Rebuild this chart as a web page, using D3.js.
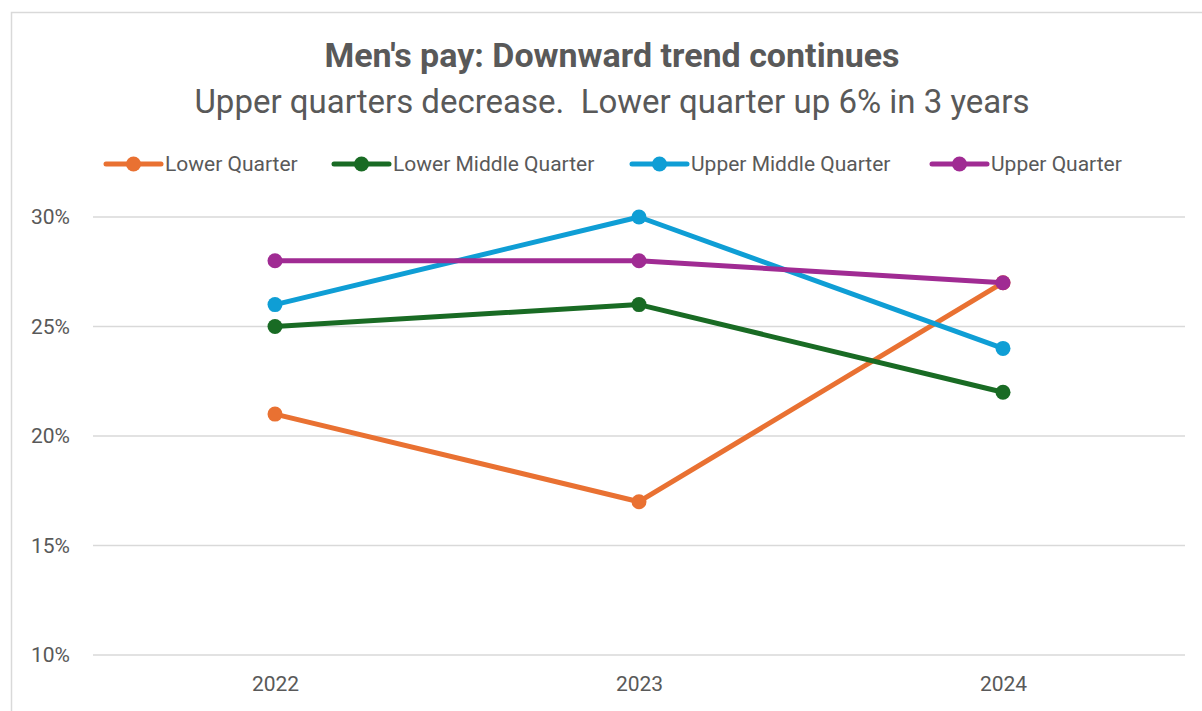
<!DOCTYPE html>
<html>
<head>
<meta charset="utf-8">
<script src="https://cdn.jsdelivr.net/npm/d3@7"></script>
<style>
  body { margin: 0; background: #fff; }
  text { font-family: Roboto, "Open Sans", sans-serif; fill: #595959; white-space: pre; }
</style>
</head>
<body>
<div class="canvas"></div>
<script>
const years = ['2022', '2023', '2024'];
const seriesNames = ['Lower Quarter', 'Lower Middle Quarter', 'Upper Middle Quarter', 'Upper Quarter'];
const lowerQuarter = [21, 17, 27];
const lowerMiddle = [25, 26, 22];
const upperMiddle = [26, 30, 24];
const upperQuarter = [28, 28, 27];
const yTicks = [10, 15, 20, 25, 30];
const colors = ['#E97132', '#196B24', '#0F9ED5', '#A02B93'];

const series = [lowerQuarter, lowerMiddle, upperMiddle, upperQuarter].map((vals, i) => ({
    name: seriesNames[i],
    color: colors[i],
    values: vals.map((v, j) => ({year: years[j], value: v}))
}));

const margin = {top: 217, right: 17, bottom: 56, left: 93};
const width = 1202, height = 711;
const graphWidth = width - margin.left - margin.right;
const graphHeight = height - margin.top - margin.bottom;

const svg = d3.select('.canvas')
    .append('svg')
    .attr('width', width)
    .attr('height', height);

// chart border
svg.append('rect')
    .attr('x', 11.5).attr('y', 12.5)
    .attr('width', 1200).attr('height', 720)
    .attr('fill', 'none')
    .attr('stroke', '#d9d9d9')
    .attr('stroke-width', 1.5);

svg.append('text')
    .attr('x', 612).attr('y', 67)
    .attr('text-anchor', 'middle')
    .style('font-size', '34px')
    .style('font-weight', 'bold')
    .text("Men's pay: Downward trend continues");

svg.append('text')
    .attr('x', 612).attr('y', 113)
    .attr('text-anchor', 'middle')
    .style('font-size', '33px')
    .text('Upper quarters decrease.  Lower quarter up 6% in 3 years');

const graph = svg.append('g')
    .attr('transform', `translate(${margin.left}, ${margin.top})`);

const x = d3.scalePoint().domain(years).range([0, graphWidth]).padding(0.5);
const y = d3.scaleLinear().domain([10, 30]).range([graphHeight, 0]);

// gridlines
graph.append('g')
    .selectAll('line')
    .data(yTicks)
    .enter().append('line')
    .attr('x1', 0).attr('x2', graphWidth)
    .attr('y1', d => y(d)).attr('y2', d => y(d))
    .attr('stroke', '#d9d9d9')
    .attr('stroke-width', 1.5);

const yAxis = d3.axisLeft(y).tickValues(yTicks).tickFormat(d => d + '%').tickSize(0).tickPadding(23);
const yAxisGroup = graph.append('g').call(yAxis);
yAxisGroup.select('.domain').remove();
yAxisGroup.selectAll('text').style('font-size', '21px').attr('fill', '#595959');

const xAxis = d3.axisBottom(x).tickSize(0).tickPadding(21);
const xAxisGroup = graph.append('g')
    .attr('transform', `translate(0, ${graphHeight})`)
    .call(xAxis);
xAxisGroup.select('.domain').remove();
xAxisGroup.selectAll('text').style('font-size', '21px').attr('fill', '#595959');

const line = d3.line().x(d => x(d.year)).y(d => y(d.value));

const groups = graph.selectAll('.series')
    .data(series)
    .enter().append('g')
    .attr('class', 'series');

groups.append('path')
    .attr('d', d => line(d.values))
    .attr('fill', 'none')
    .attr('stroke', d => d.color)
    .attr('stroke-width', 5)
    .attr('stroke-linecap', 'round')
    .attr('stroke-linejoin', 'round');

groups.selectAll('circle')
    .data(d => d.values.map(v => ({...v, color: d.color})))
    .enter().append('circle')
    .attr('cx', d => x(d.year))
    .attr('cy', d => y(d.value))
    .attr('r', 7.5)
    .attr('fill', d => d.color);

// legend
const legendX = [106, 334, 632, 932];
const legend = svg.selectAll('.legend')
    .data(series)
    .enter().append('g')
    .attr('class', 'legend')
    .attr('transform', (d, i) => `translate(${legendX[i]}, 164)`);

legend.append('line')
    .attr('x1', 0).attr('x2', 55)
    .attr('stroke', d => d.color)
    .attr('stroke-width', 5)
    .attr('stroke-linecap', 'round');

legend.append('circle')
    .attr('cx', 27.5).attr('r', 7.5)
    .attr('fill', d => d.color);

legend.append('text')
    .attr('x', 59).attr('y', 7)
    .style('font-size', '21px')
    .text(d => d.name);
</script>
</body>
</html>
